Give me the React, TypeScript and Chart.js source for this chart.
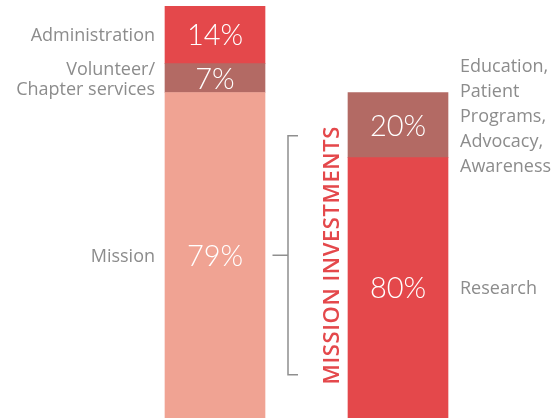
import React, { useEffect, useRef } from "react";
import { Chart, registerables } from "chart.js";

Chart.register(...registerables);

// Left bar: share of total spending (%)
const leftCategories = ["Mission", "Volunteer/\nChapter services", "Administration"];
const leftShares = [79, 7, 14];
// Right bar: split of mission investments (% of mission)
const rightCategories = ["Research", "Education,\nPatient\nPrograms,\nAdvocacy,\nAwareness"];
const rightShares = [80, 20];
const bracketTitle = "MISSION INVESTMENTS";
const barLabels = ["Total", "Mission"];

const RED = "#E4484B";
const BROWN = "#B36A64";
const SALMON = "#F0A393";
const GRAY = "#8C8C8C";

const missionTotal = leftShares[0];

export default function App() {
  const ref = useRef<HTMLCanvasElement | null>(null);

  useEffect(() => {
    if (!ref.current) return;
    const ds: any[] = [
      { label: leftCategories[0], data: [leftShares[0], null], backgroundColor: SALMON, side: 0, pct: leftShares[0], text: leftCategories[0] },
      { label: rightCategories[0], data: [null, (rightShares[0] * missionTotal) / 100], backgroundColor: RED, side: 1, pct: rightShares[0], text: rightCategories[0] },
      { label: leftCategories[1], data: [leftShares[1], null], backgroundColor: BROWN, side: 0, pct: leftShares[1], text: leftCategories[1] },
      { label: rightCategories[1], data: [null, (rightShares[1] * missionTotal) / 100], backgroundColor: BROWN, side: 1, pct: rightShares[1], text: rightCategories[1] },
      { label: leftCategories[2], data: [leftShares[2], null], backgroundColor: RED, side: 0, pct: leftShares[2], text: leftCategories[2] },
    ].map((d) => ({ ...d, barThickness: 100, borderWidth: 0, stack: "s" }));

    const labelPlugin = {
      id: "labels",
      afterDatasetsDraw(chart: any) {
        const ctx = chart.ctx;
        ctx.save();
        let missionEl: any = null;
        chart.data.datasets.forEach((d: any, i: number) => {
          const meta = chart.getDatasetMeta(i);
          const idx = d.side;
          const el = meta.data[idx];
          if (!el) return;
          const cy = (el.y + el.base) / 2;
          if (i === 0) missionEl = el;
          // percentage
          ctx.fillStyle = "#ffffff";
          ctx.font = "300 29px Lato, 'Open Sans', sans-serif";
          ctx.textAlign = "center";
          ctx.textBaseline = "alphabetic";
          ctx.fillText(d.pct + "%", el.x, cy + 10.5);
          // side label
          const lines = String(d.text).split("\n");
          ctx.fillStyle = GRAY;
          ctx.font = "18px 'Open Sans', sans-serif";
          if (idx === 0) {
            const lh = 20;
            const start = cy - ((lines.length - 1) * lh) / 2;
            ctx.textAlign = "right";
            lines.forEach((ln, k) => ctx.fillText(ln, el.x - el.width / 2 - 10, start + k * lh + 6.5));
          } else {
            const lh = 25;
            const off = lines.length > 1 ? -9.5 : 0;
            const start = cy + off - ((lines.length - 1) * lh) / 2;
            ctx.textAlign = "left";
            lines.forEach((ln, k) => ctx.fillText(ln, el.x + el.width / 2 + 12, start + k * lh + 6.5));
          }
        });
        if (missionEl) {
          const my = (missionEl.y + missionEl.base) / 2;
          const bx = missionEl.x + missionEl.width / 2 + 23;
          const half = 119.5;
          ctx.strokeStyle = "#8f8f8f";
          ctx.lineWidth = 1.5;
          ctx.beginPath();
          ctx.moveTo(bx + 10, my - half);
          ctx.lineTo(bx, my - half);
          ctx.lineTo(bx, my + half);
          ctx.lineTo(bx + 10, my + half);
          ctx.moveTo(bx - 15.5, my);
          ctx.lineTo(bx, my);
          ctx.stroke();
          // rotated title
          ctx.save();
          ctx.translate(bx + 43, my);
          ctx.rotate(-Math.PI / 2);
          ctx.fillStyle = RED;
          ctx.font = "600 22px 'Open Sans', sans-serif";
          (ctx as any).letterSpacing = "0.6px";
          ctx.textAlign = "center";
          ctx.textBaseline = "alphabetic";
          ctx.fillText(bracketTitle, 0, 8);
          ctx.restore();
        }
        ctx.restore();
      },
    };

    const chart = new Chart(ref.current, {
      type: "bar",
      data: { labels: barLabels, datasets: ds },
      options: {
        animation: false,
        responsive: false,
        maintainAspectRatio: false,
        layout: { padding: { left: 123.5, right: 66.5, top: 6, bottom: 1 } },
        plugins: { legend: { display: false }, tooltip: { enabled: false } },
        scales: {
          x: { stacked: true, display: false },
          y: { stacked: true, display: false, min: 0, max: 100 },
        },
      },
      plugins: [labelPlugin],
    } as any);
    return () => chart.destroy();
  }, []);

  return (
    <div style={{ position: "fixed", left: 0, top: 0, width: 556, height: 419, background: "#fff" }}>
      <canvas ref={ref} width={556} height={419} style={{ width: 556, height: 419, display: "block" }} />
    </div>
  );
}
